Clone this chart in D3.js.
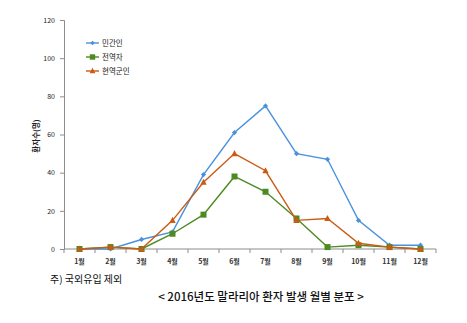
<!DOCTYPE html>
<html>
<head>
<meta charset="utf-8">
<script src="https://cdn.jsdelivr.net/npm/d3@7"></script>
<style>
  html, body { margin: 0; padding: 0; background: #fff; }
  svg { display: block; }
  text { font-family: "Noto Sans CJK KR", "DejaVu Sans", sans-serif; }
</style>
</head>
<body>
<svg id="chart" width="467" height="323"></svg>
<script>
// 2016 monthly malaria cases by group
const months = ["1월","2월","3월","4월","5월","6월","7월","8월","9월","10월","11월","12월"];
const civilians = [0, 0, 5, 9, 39, 61, 75, 50, 47, 15, 2, 2];
const veterans  = [0, 1, 0, 8, 18, 38, 30, 16, 1, 2, 1, 0];
const soldiers  = [0, 1, 0, 15, 35, 50, 41, 15, 16, 3, 1, 0];
const yTicks = [0, 20, 40, 60, 80, 100, 120];

const series = [
  { name: "민간인",  values: civilians, color: "#4A92DC", marker: "diamond" },
  { name: "전역자",  values: veterans,  color: "#4D8A22", marker: "square" },
  { name: "현역군인", values: soldiers,  color: "#CC5A14", marker: "triangle" }
];

const svg = d3.select("#chart");
const plot = { left: 64, right: 436, top: 20, bottom: 249 };

const x = d3.scaleBand().domain(months).range([plot.left, plot.right]);
const y = d3.scaleLinear().domain([0, 120]).range([plot.bottom, plot.top]);

// Y axis
const yAxis = svg.append("g")
  .attr("transform", `translate(${plot.left},0)`)
  .call(d3.axisLeft(y).tickValues(yTicks).tickSize(4).tickPadding(5));
yAxis.select(".domain").attr("stroke", "#8c8c8c");
yAxis.selectAll(".tick line").attr("stroke", "#8c8c8c");
yAxis.selectAll(".tick text").attr("font-size", 7).attr("fill", "#222")
  .attr("font-family", "Arial, 'Liberation Sans', sans-serif");

// X axis with boundary ticks between months
const xAxis = svg.append("g")
  .attr("transform", `translate(0,${plot.bottom})`);
xAxis.append("line")
  .attr("x1", plot.left).attr("x2", plot.right)
  .attr("stroke", "#8c8c8c");
const bounds = months.map(m => x(m)).concat([x(months[months.length - 1]) + x.bandwidth()]);
xAxis.selectAll("line.tk").data(bounds).join("line")
  .attr("class", "tk")
  .attr("x1", d => d).attr("x2", d => d)
  .attr("y1", 0).attr("y2", 4)
  .attr("stroke", "#8c8c8c");
xAxis.selectAll("text").data(months).join("text")
  .attr("x", d => x(d) + x.bandwidth() / 2)
  .attr("y", 15)
  .attr("text-anchor", "middle")
  .attr("font-size", 7)
  .attr("font-weight", "bold")
  .attr("fill", "#333")
  .text(d => d);

// Y axis title
svg.append("text")
  .attr("transform", "translate(39,136) rotate(-90)")
  .attr("text-anchor", "middle")
  .attr("font-size", 7.5)
  .attr("font-weight", "bold")
  .attr("fill", "#222")
  .text("환자수(명)");

const cx = m => x(m) + x.bandwidth() / 2;
const line = d3.line().x((d, i) => cx(months[i])).y(d => y(d));

function drawMarker(g, type, color, px, py, s) {
  if (type === "diamond") {
    g.append("path")
      .attr("d", `M${px},${py - s}L${px + s},${py}L${px},${py + s}L${px - s},${py}Z`)
      .attr("fill", color);
  } else if (type === "square") {
    g.append("rect")
      .attr("x", px - s).attr("y", py - s)
      .attr("width", 2 * s).attr("height", 2 * s)
      .attr("fill", color);
  } else {
    g.append("path")
      .attr("d", `M${px},${py - s * 1.1}L${px + s},${py + s * 0.8}L${px - s},${py + s * 0.8}Z`)
      .attr("fill", color);
  }
}

const markerSize = { diamond: 2.6, square: 3, triangle: 3.2 };

series.forEach(s => {
  const g = svg.append("g");
  g.append("path")
    .datum(s.values)
    .attr("d", line)
    .attr("fill", "none")
    .attr("stroke", s.color)
    .attr("stroke-width", 1.4);
  s.values.forEach((v, i) => {
    drawMarker(g, s.marker, s.color, cx(months[i]), y(v), markerSize[s.marker]);
  });
});

// Legend
const legend = svg.append("g");
series.forEach((s, i) => {
  const ly = 43 + i * 14;
  legend.append("line")
    .attr("x1", 86).attr("x2", 99)
    .attr("y1", ly).attr("y2", ly)
    .attr("stroke", s.color).attr("stroke-width", 1.4);
  drawMarker(legend, s.marker, s.color, 92.5, ly, markerSize[s.marker] * 0.9);
  legend.append("text")
    .attr("x", 102).attr("y", ly + 3)
    .attr("font-size", 7.5)
    .attr("fill", "#222")
    .text(s.name);
});

// Footnote and caption
svg.append("text")
  .attr("x", 50).attr("y", 283)
  .attr("font-size", 10)
  .attr("fill", "#111")
  .text("주) 국외유입 제외");

svg.append("text")
  .attr("x", 261).attr("y", 301)
  .attr("text-anchor", "middle")
  .attr("font-size", 11.5)
  .attr("font-weight", 500)
  .attr("fill", "#111")
  .text("< 2016년도 말라리아 환자 발생 월별 분포 >");
</script>
</body>
</html>
